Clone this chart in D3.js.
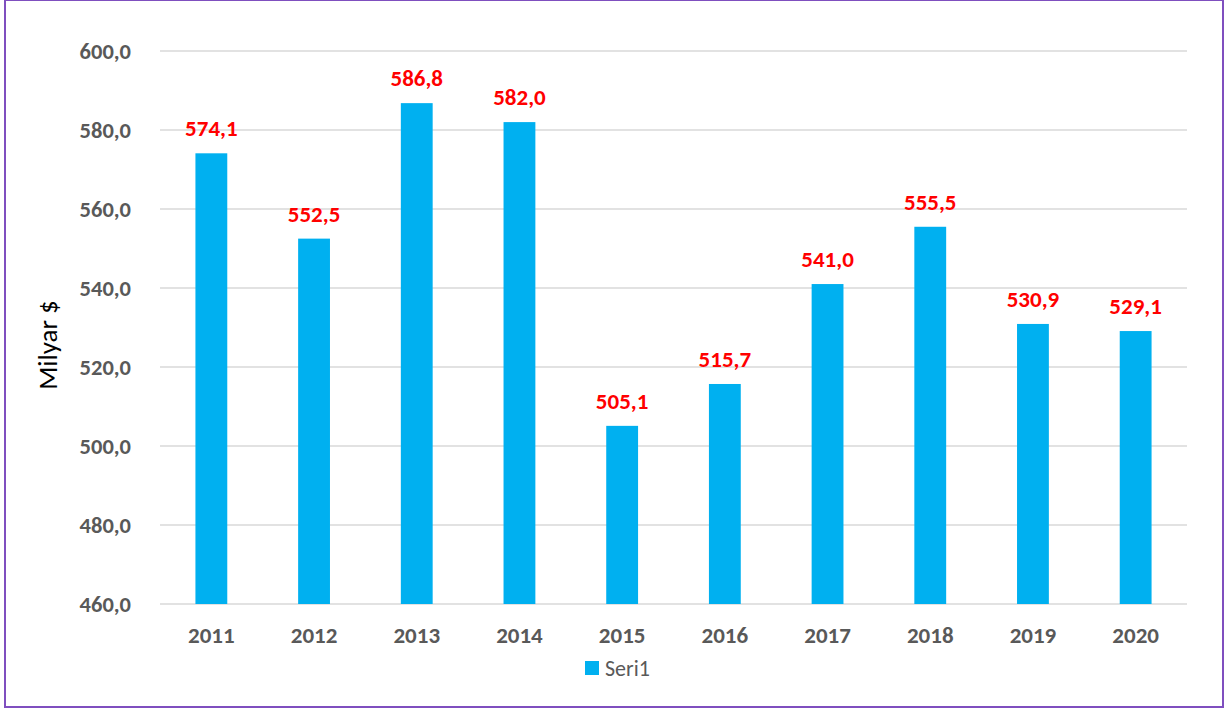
<!DOCTYPE html>
<html>
<head>
<meta charset="utf-8">
<script src="https://cdn.jsdelivr.net/npm/d3@7"></script>
<style>
  body { margin: 0; background: #fff; }
  text { font-family: Calibri, Carlito, Lato, "Open Sans", sans-serif; }
</style>
</head>
<body>
<div id="chart"></div>
<script>
const years = ['2011', '2012', '2013', '2014', '2015', '2016', '2017', '2018', '2019', '2020']
const values = [574.1, 552.5, 586.8, 582.0, 505.1, 515.7, 541.0, 555.5, 530.9, 529.1]
const yTicks = [460, 480, 500, 520, 540, 560, 580, 600]
const seriesName = 'Seri1'
const axisTitle = 'Milyar $'

const width = 1227
const height = 709
const margin = { top: 51, bottom: 105, left: 160, right: 40 }
const fmt = v => v.toFixed(1).replace('.', ',')

const svg = d3.select('#chart').append('svg')
    .attr('width', width)
    .attr('height', height)

// outer frame
svg.append('rect')
    .attr('x', 5).attr('y', 0)
    .attr('width', 1218).attr('height', 707)
    .attr('fill', 'none')
    .attr('stroke', '#7f4fbf')
    .attr('stroke-width', 2)

const x = d3.scaleBand()
    .domain(years)
    .range([margin.left, width - margin.right])
    .paddingInner(0.69)
    .paddingOuter(0.345)

const y = d3.scaleLinear()
    .domain([460, 600])
    .range([height - margin.bottom, margin.top])

// gridlines
svg.append('g')
    .selectAll('line')
    .data(yTicks)
    .join('line')
    .attr('x1', margin.left)
    .attr('x2', width - margin.right)
    .attr('y1', d => y(d))
    .attr('y2', d => y(d))
    .attr('stroke', '#d9d9d9')
    .attr('stroke-width', 1.5)

// y tick labels
svg.append('g')
    .selectAll('text')
    .data(yTicks)
    .join('text')
    .attr('x', 131)
    .attr('y', d => y(d))
    .attr('dy', '0.35em')
    .attr('text-anchor', 'end')
    .attr('fill', '#595959')
    .attr('font-weight', 'bold')
    .attr('font-size', 22.5)
    .text(d => fmt(d))

// bars
svg.append('g')
    .selectAll('rect')
    .data(values)
    .join('rect')
    .attr('x', (d, i) => x(years[i]))
    .attr('y', d => y(d))
    .attr('width', x.bandwidth())
    .attr('height', d => y(460) - y(d))
    .attr('fill', '#00b0f0')

// data labels
svg.append('g')
    .selectAll('text')
    .data(values)
    .join('text')
    .attr('x', (d, i) => x(years[i]) + x.bandwidth() / 2)
    .attr('y', d => y(d) - 17)
    .attr('text-anchor', 'middle')
    .attr('fill', '#ff0000')
    .attr('font-weight', 'bold')
    .attr('font-size', 23)
    .text(d => fmt(d))

// x labels
svg.append('g')
    .selectAll('text')
    .data(years)
    .join('text')
    .attr('x', d => x(d) + x.bandwidth() / 2)
    .attr('y', 643)
    .attr('text-anchor', 'middle')
    .attr('fill', '#595959')
    .attr('font-weight', 'bold')
    .attr('font-size', 23)
    .text(d => d)

// axis title
svg.append('text')
    .attr('transform', `translate(57, 345) rotate(-90)`)
    .attr('text-anchor', 'middle')
    .attr('fill', '#000')
    .attr('font-size', 27)
    .text(axisTitle)

// legend
const legendG = svg.append('g').attr('transform', 'translate(585, 661)')
legendG.append('rect')
    .attr('width', 14).attr('height', 14)
    .attr('fill', '#00b0f0')
legendG.append('text')
    .attr('x', 20).attr('y', 7)
    .attr('dy', '0.35em')
    .attr('fill', '#595959')
    .attr('font-size', 22)
    .text(seriesName)
</script>
</body>
</html>
